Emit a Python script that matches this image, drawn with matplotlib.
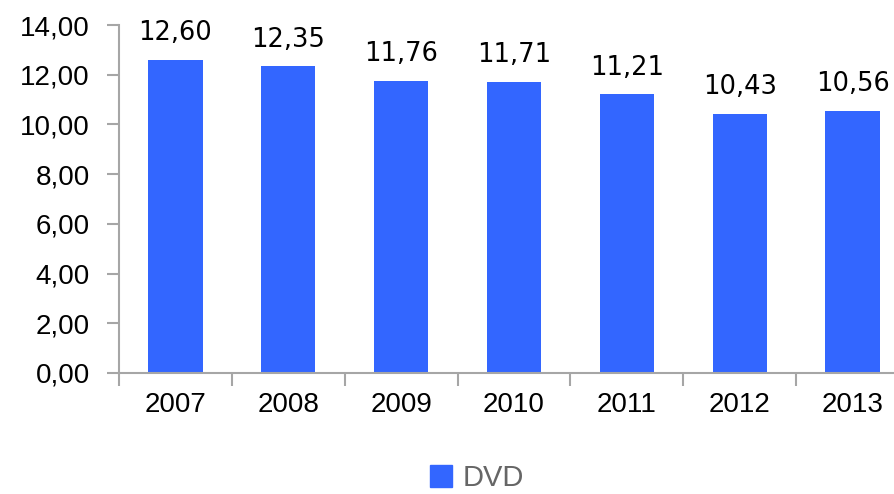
import matplotlib
matplotlib.use("Agg")
import matplotlib.pyplot as plt
from matplotlib.patches import Patch
from matplotlib.ticker import FixedLocator, FuncFormatter

years = ["2007", "2008", "2009", "2010", "2011", "2012", "2013"]
dvd = [12.60, 12.35, 11.76, 11.71, 11.21, 10.43, 10.56]
series_name = "DVD"

BLUE = "#3366FF"
GRAY = "#A6A6A6"


def comma(v, pos=None):
    return f"{v:.2f}".replace(".", ",")


fig = plt.figure(figsize=(8.94, 4.94), dpi=100)
ax = fig.add_axes([119 / 894, 1 - 373 / 494, 790 / 894, 348 / 494])

x = range(len(years))
ax.bar(x, dvd, width=0.48, color=BLUE, zorder=2)

for i, v in enumerate(dvd):
    ax.annotate(comma(v), (i, v), xytext=(0, 14), textcoords="offset points",
                ha="center", va="baseline", fontsize=18.5, family="DejaVu Sans")

ax.set_ylim(0, 14)
ax.set_xlim(-0.5, len(years) - 0.5)
ax.set_yticks(range(0, 15, 2))
ax.yaxis.set_major_formatter(FuncFormatter(comma))

# categories labelled in the middle, tick marks between them
ax.set_xticks(list(x))
ax.set_xticklabels(years)
ax.xaxis.set_minor_locator(FixedLocator([i - 0.5 for i in range(len(years) + 1)]))
ax.tick_params(axis="x", which="major", length=0, pad=14, labelsize=20)
ax.tick_params(axis="x", which="minor", length=9, width=1.5, color=GRAY, direction="out")
ax.tick_params(axis="y", length=9, width=1.5, color=GRAY, direction="out", pad=12, labelsize=20)
for lab in ax.get_xticklabels() + ax.get_yticklabels():
    lab.set_family("Liberation Sans")

for s in ["top", "right"]:
    ax.spines[s].set_visible(False)
for s in ["left", "bottom"]:
    ax.spines[s].set_color(GRAY)
    ax.spines[s].set_linewidth(1.5)

fig.legend(handles=[Patch(color=BLUE, label=series_name)], loc="center",
           bbox_to_anchor=(477 / 894, 1 - 478 / 494), frameon=False,
           prop={"family": "Liberation Sans", "size": 21}, labelcolor="#666666",
           handlelength=0.75, handleheight=0.75, handletextpad=0.35,
           borderpad=0.1, borderaxespad=0)

fig.savefig("out.png", dpi=100)
